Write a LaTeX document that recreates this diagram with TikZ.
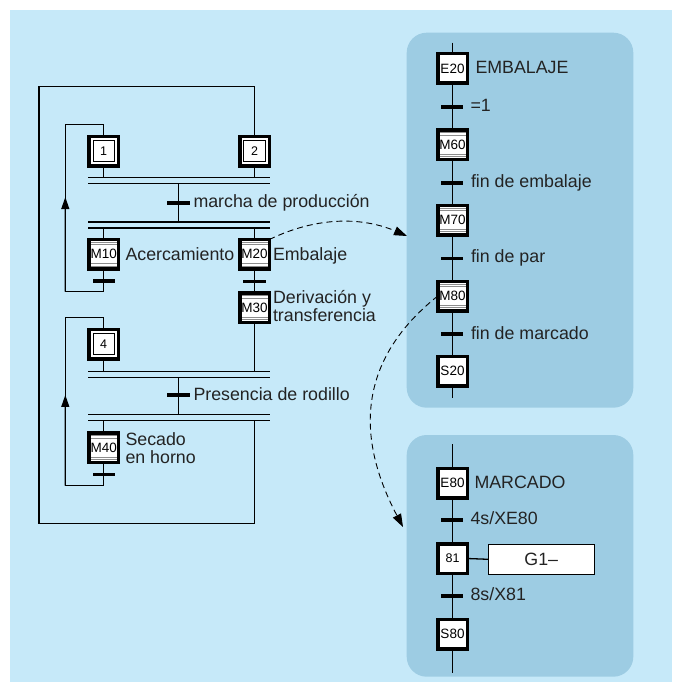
\documentclass[tikz,border=0pt]{standalone}
\usepackage{fontspec}
\setmainfont{Liberation Sans}
\usetikzlibrary{arrows.meta,calc}
\definecolor{bgblue}{RGB}{198,233,249}
\definecolor{panelblue}{RGB}{157,204,227}
\definecolor{txt}{RGB}{35,35,35}
\definecolor{macrogray}{RGB}{140,140,140}
\tikzset{
 every node/.style={inner sep=0pt, outer sep=0pt},
 conn/.style={line width=1.3pt, draw=black},
 plainstep/.style={draw, line width=3.5pt, fill=white, minimum width=29.5pt, minimum height=29.5pt, font=\fontsize{13.5}{13.5}\selectfont},
 initstep/.style={plainstep, font=\fontsize{12.5}{12.5}\selectfont,
   path picture={\draw[line width=1pt] ([shift={(4.2pt,4.2pt)}]path picture bounding box.south west) rectangle ([shift={(-4.2pt,-4.2pt)}]path picture bounding box.north east);}},
 macrostep/.style={plainstep,
   path picture={\foreach \d in {2.9pt,5.2pt}{
     \draw[macrogray,line width=0.9pt] ([yshift=-\d]path picture bounding box.north west) -- ([yshift=-\d]path picture bounding box.north east);
     \draw[macrogray,line width=0.9pt] ([yshift=\d]path picture bounding box.south west) -- ([yshift=\d]path picture bounding box.south east);}}},
 trans/.style={fill=black, minimum width=22.5pt, minimum height=3.6pt},
 syncbar/.style={minimum width=182pt, minimum height=6pt},
 lbl/.style={font=\fontsize{17.8}{19}\selectfont, text=txt, anchor=base west},
 actbox/.style={draw, line width=1.2pt, fill=white, minimum width=106pt, minimum height=30pt, font=\fontsize{17.8}{19}\selectfont, text=txt},
 linkarrow/.style={dashed, dash pattern=on 6pt off 4pt, line width=0.9pt, -{Triangle[length=13pt,width=9pt]}},
 looparrow/.style={line width=1.3pt, -{Triangle[length=12pt,width=8pt]}}
}
\begin{document}
\begin{tikzpicture}[x=1pt,y=-1pt]
\useasboundingbox (0,0) rectangle (672,682);
\fill[bgblue] (10,10) rectangle (672,682);
% panels
\fill[panelblue, rounded corners=20pt] (406.7,32.7) rectangle (633.3,407.7);
\fill[panelblue, rounded corners=20pt] (406.7,435) rectangle (633.3,676.7);

% ---------- left diagram ----------
\node[syncbar] (sA) at (179,180.5) {};
\node[syncbar] (sB) at (179,225) {};
\node[syncbar] (sC) at (179,374.2) {};
\node[syncbar] (sD) at (179,417.7) {};
\foreach \s in {sA,sB,sC,sD}{
  \draw[conn] (\s.north west) -- (\s.north east);
  \draw[conn] (\s.south west) -- (\s.south east);
}
\node[initstep] (s1) at (103.7,151) {1};
\node[initstep] (s2) at (254.5,151) {2};
\node[macrostep] (m10) at (103.7,254.3) {M10};
\node[macrostep] (m20) at (254.5,254.3) {M20};
\node[macrostep] (m30) at (254.5,307.7) {M30};
\node[initstep] (s4) at (103.7,344.2) {4};
\node[macrostep] (m40) at (103.7,447.7) {M40};

\coordinate (ul1) at (65.3,124.3);
\coordinate (ll1) at (65.3,291.7);
\coordinate (ul2) at (65.3,317.7);
\coordinate (ll2) at (65.3,485.7);
\coordinate (ot) at (39,86.7);
\coordinate (ob) at (39,523.3);

\draw[conn] (s1.south) -- (s1 |- sA.north);
\draw[conn] (s2.south) -- (s2 |- sA.north);
\draw[conn] (178.7,0 |- sA.south) -- (178.7,0 |- sB.north);
\draw[conn] (m10 |- sB.south) -- (m10.north);
\draw[conn] (m20 |- sB.south) -- (m20.north);
\draw[conn] (m20.south) -- (m30.north);
\draw[conn] (m30.south) -- (m30 |- sC.north);
\draw[conn] (s4.south) -- (s4 |- sC.north);
\draw[conn] (178.7,0 |- sC.south) -- (178.7,0 |- sD.north);
\draw[conn] (m40 |- sD.south) -- (m40.north);
% loops
\draw[conn] (m10.south) |- (ll1) -- (ul1) -| (s1.north);
\draw[looparrow] (ll1) -- ($(ll1)!0.565!(ul1)$);
\draw[conn] (m40.south) |- (ll2) -- (ul2) -| (s4.north);
\draw[looparrow] (ll2) -- ($(ll2)!0.54!(ul2)$);
\draw[conn] (s2 |- sD.south) -- (s2 |- ob) -- (ob) -- (ot) -| (s2.north);

\node[trans] (t1) at (178.7,203) {};
\node[trans] (t2) at (178.7,395) {};
\node[trans] (t10) at (103.9,281) {};
\node[trans] (t20) at (254.5,281.5) {};
\node[trans] (t40) at (103.9,474.3) {};

\node[lbl] (lprod) at (193.5,207.8) {marcha de producción};
\node[lbl] (lacer) at (125.5,260) {Acercamiento};
\node[lbl] (lemb) at (273,260) {Embalaje};
\node[lbl] (lder1) at (273,303.3) {Derivación y};
\node[lbl] (lder2) at (273,321.7) {transferencia};
\node[lbl] (lpres) at (193.5,400.7) {Presencia de rodillo};
\node[lbl] (lsec1) at (125.5,445) {Secado};
\node[lbl] (lsec2) at (125.5,463.3) {en horno};

% ---------- panel EMBALAJE ----------
\coordinate (e20top) at (452.5,42.7);
\coordinate (s20bot) at (452.5,397.7);
\node[plainstep] (e20) at (452.5,68.5) {E20};
\node[macrostep] (m60) at (452.5,144.5) {M60};
\node[macrostep] (m70) at (452.5,220) {M70};
\node[macrostep] (m80) at (452.5,296) {M80};
\node[plainstep] (s20) at (452.5,371) {S20};
\draw[conn] (e20top) -- (e20.north);
\draw[conn] (e20.south) -- (m60.north);
\draw[conn] (m60.south) -- (m70.north);
\draw[conn] (m70.south) -- (m80.north);
\draw[conn] (m80.south) -- (s20.north);
\draw[conn] (s20.south) -- (s20bot);
\node[trans] (te1) at (452,107.3) {};
\node[trans] (te2) at (452,182.7) {};
\node[trans] (te3) at (452,258.3) {};
\node[trans] (te4) at (452,334) {};
\node[lbl] (lembt) at (475.5,74) {EMBALAJE};
\node[lbl] (leq) at (470.5,111.3) {=1};
\node[lbl] (lfe) at (471,187.3) {fin de embalaje};
\node[lbl] (lfp) at (471,262.7) {fin de par};
\node[lbl] (lfm) at (471,339) {fin de marcado};

% ---------- panel MARCADO ----------
\coordinate (e80top) at (452.5,444);
\coordinate (s80bot) at (452.5,672.7);
\node[plainstep] (e80) at (452.5,483) {E80};
\node[plainstep, font=\fontsize{12.5}{12.5}\selectfont] (s81) at (452.5,558.5) {81};
\node[plainstep] (s80) at (452.5,634) {S80};
\node[actbox] (act) at (541.3,559.3) {G1–};
\draw[conn] (e80top) -- (e80.north);
\draw[conn] (e80.south) -- (s81.north);
\draw[conn] (s81.south) -- (s80.north);
\draw[conn] (s80.south) -- (s80bot);
\draw[conn] (s81.east) -- (act.west);
\node[trans] (tf1) at (452,520) {};
\node[trans] (tf2) at (452,596) {};
\node[lbl] (lmar) at (474.5,488.3) {MARCADO};
\node[lbl] (l4s) at (470.5,524.3) {4s/XE80};
\node[lbl] (l8s) at (470.5,600.7) {8s/X81};

% ---------- links ----------
\coordinate (a1end) at (407,236);
\coordinate (a2end) at (403,527);
\draw[linkarrow] (m20.north east) .. controls (320,215) and (365,218) .. (a1end);
\draw[linkarrow] (m80.west) .. controls (345,370) and (365,455) .. (a2end);
\end{tikzpicture}
\end{document}
